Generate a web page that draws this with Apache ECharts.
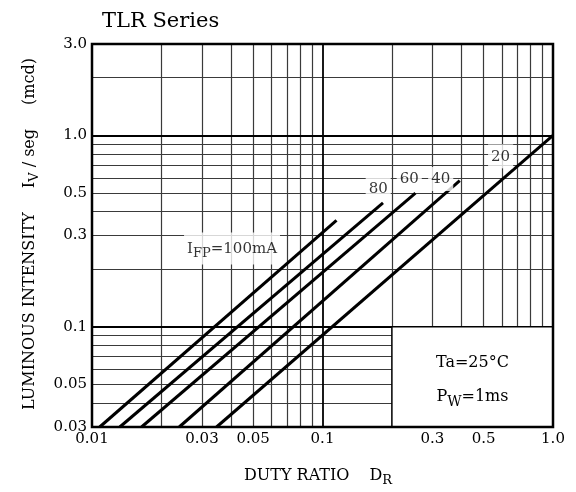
<!DOCTYPE html>
<html><head><meta charset="utf-8">
<script src="https://cdn.jsdelivr.net/npm/echarts@6/dist/echarts.min.js"></script>
<style>html,body{margin:0;padding:0;background:#fff}#c{width:576px;height:492px}</style>
</head><body><div id="c"></div>
<script>
// ---- data ----
const currents = ['100', '80', '60', '40', '20'];
const startDuty = [0.0108, 0.0132, 0.0164, 0.0239, 0.0347];
const startIv = [0.03, 0.03, 0.03, 0.03, 0.03];
const endDuty = [0.115, 0.183, 0.253, 0.394, 1.0];
const endIv = [0.36, 0.444, 0.50, 0.58, 1.0];

const xMinorGrid = [0.02, 0.03, 0.04, 0.05, 0.06, 0.07, 0.08, 0.09, 0.2, 0.3, 0.4, 0.5, 0.6, 0.7, 0.8, 0.9];
const xMajorGrid = [0.1];
const yMinorGrid = [0.04, 0.05, 0.06, 0.07, 0.08, 0.09, 0.2, 0.3, 0.4, 0.5, 0.6, 0.7, 0.8, 0.9, 2];
const yMajorGrid = [0.1, 1];

const xTickValues = [0.01, 0.03, 0.05, 0.1, 0.3, 0.5, 1.0];
const xTickText = ['0.01', '0.03', '0.05', '0.1', '0.3', '0.5', '1.0'];
const yTickValues = [0.03, 0.05, 0.1, 0.3, 0.5, 1.0, 3.0];
const yTickText = ['0.03', '0.05', '0.1', '0.3', '0.5', '1.0', '3.0'];

const curveLabelText = ['{m|I}{s|FP}{m|=100mA}', '80', '60', '40', '20'];
const curveLabelDuty = [0.0405, 0.1745, 0.2378, 0.3257, 0.5926];
const curveLabelIv = [0.2563, 0.527, 0.592, 0.592, 0.777];

const conditionText = '{b|Ta=25°C}\n{b|P}{t|W}{b|=1ms}';

// ---- chart ----
const FONT = 'DejaVu Serif';
const chart = echarts.init(document.getElementById('c'), null, {renderer: 'canvas'});
const rich = {
  m: {fontFamily: FONT, fontSize: 15, color: '#000'},
  s: {fontFamily: FONT, fontSize: 13, color: '#000', padding: [10, 0, 0, 0]},
  b: {fontFamily: FONT, fontSize: 16, color: '#000', lineHeight: 34},
  t: {fontFamily: FONT, fontSize: 14, color: '#000', lineHeight: 34, padding: [10, 0, 0, 0]}
};

const series = [];
// grid lines
series.push({
  type: 'line', data: [], silent: true,
  markLine: {
    z: 1, silent: true, symbol: 'none', animation: false,
    label: {show: false},
    lineStyle: {type: 'solid', color: '#3a3a3a', width: 1.2},
    emphasis: {disabled: true},
    data: xMinorGrid.map(v => ({xAxis: v})).concat(yMinorGrid.map(v => ({yAxis: v})))
  }
});
series.push({
  type: 'line', data: [], silent: true,
  markLine: {
    z: 1, silent: true, symbol: 'none', animation: false,
    label: {show: false},
    lineStyle: {type: 'solid', color: '#000', width: 1.8},
    emphasis: {disabled: true},
    data: xMajorGrid.map(v => ({xAxis: v})).concat(yMajorGrid.map(v => ({yAxis: v})))
  }
});
// condition box
series.push({
  type: 'line', data: [], silent: true,
  markArea: {
    z: 2, silent: true, animation: false,
    itemStyle: {color: '#fff', borderColor: '#000', borderWidth: 1.5},
    label: {show: true, position: 'inside', formatter: conditionText, rich: rich, padding: [6, 0, 0, 0]},
    emphasis: {disabled: true},
    data: [[{xAxis: 0.2, yAxis: 0.03}, {xAxis: 1.0, yAxis: 0.1}]]
  }
});
// curves
currents.forEach((c, i) => {
  series.push({
    name: c + 'mA', type: 'line', z: 3, silent: true, animation: false,
    showSymbol: false, symbol: 'none',
    lineStyle: {color: '#000', width: 3},
    data: [[startDuty[i], startIv[i]], [endDuty[i], endIv[i]]]
  });
});
// curve labels
series.push({
  type: 'scatter', z: 4, silent: true, symbolSize: 0, animation: false,
  data: curveLabelDuty.map((d, i) => ({value: [d, curveLabelIv[i]], label: {formatter: curveLabelText[i]}})),
  label: {show: true, position: 'inside', backgroundColor: '#fff', padding: [5, 3, 4, 3],
    fontFamily: FONT, fontSize: 15, color: '#000', rich: rich}
});
// tick labels + frame
series.push({
  type: 'line', data: [], silent: true,
  markLine: {
    z: 5, silent: true, symbol: 'none', animation: false,
    lineStyle: {color: 'rgba(0,0,0,0)', width: 1},
    label: {show: true, position: 'start', distance: 5, fontFamily: FONT, fontSize: 15, color: '#000'},
    emphasis: {disabled: true},
    data: xTickValues.map((v, i) => ({xAxis: v, label: {formatter: xTickText[i], distance: 5}}))
      .concat(yTickValues.map((v, i) => ({yAxis: v, label: {formatter: yTickText[i], distance: 5}})))
  },
  markArea: {
    z: 5, silent: true, animation: false,
    itemStyle: {color: 'rgba(0,0,0,0)', borderColor: '#000', borderWidth: 2.5},
    emphasis: {disabled: true},
    data: [[{xAxis: 0.01, yAxis: 0.03}, {xAxis: 1.0, yAxis: 3.0}]]
  }
});

chart.setOption({
  backgroundColor: '#fff',
  animation: false,
  grid: {left: 92, right: 23, top: 44, bottom: 65, show: false},
  xAxis: {type: 'log', logBase: 10, min: 0.01, max: 1,
    axisLine: {show: false}, axisTick: {show: false}, axisLabel: {show: false},
    splitLine: {show: false}, minorSplitLine: {show: false}},
  yAxis: {type: 'log', logBase: 10, min: 0.03, max: 3,
    axisLine: {show: false}, axisTick: {show: false}, axisLabel: {show: false},
    splitLine: {show: false}, minorSplitLine: {show: false}},
  graphic: [
    {type: 'text', x: 102, y: 22, style: {text: 'TLR Series', fontFamily: FONT, fontSize: 21, fill: '#000', align: 'left', verticalAlign: 'middle'}},
    {type: 'text', x: 318, y: 476, style: {
      text: '{m|DUTY RATIO}{g| }{m|D}{s|R}', align: 'center', verticalAlign: 'middle',
      rich: {m: {fontFamily: FONT, fontSize: 16, fill: '#000'}, g: {fontFamily: FONT, fontSize: 16, width: 20},
             s: {fontFamily: FONT, fontSize: 13, fill: '#000', padding: [10, 0, 0, 0]}}}},
    {type: 'text', x: 30, y: 234, rotation: Math.PI / 2, style: {
      text: '{m|LUMINOUS INTENSITY}{g| }{m|I}{s|V}{m| / seg}{g| }{m|(mcd)}', align: 'center', verticalAlign: 'middle',
      rich: {m: {fontFamily: FONT, fontSize: 16, fill: '#000'}, g: {fontFamily: FONT, fontSize: 16, width: 24},
             s: {fontFamily: FONT, fontSize: 13, fill: '#000', padding: [10, 0, 0, 0]}}}}
  ],
  series: series
});
</script></body></html>
